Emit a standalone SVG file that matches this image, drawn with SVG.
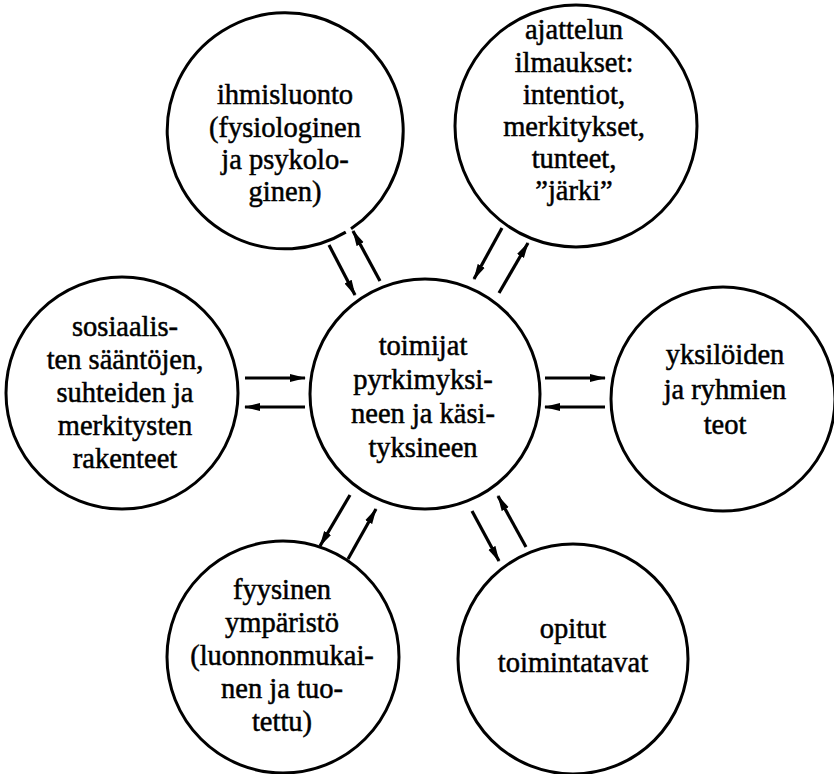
<svg xmlns="http://www.w3.org/2000/svg" width="834" height="774" viewBox="0 0 834 774">
<defs>
<marker id="ah" markerUnits="userSpaceOnUse" markerWidth="16" markerHeight="10" viewBox="0 0 16 10" refX="15" refY="5" orient="auto">
<path d="M0,1 L16,5 L0,9 z" fill="#000"/>
</marker>
</defs>
<style>
.c{fill:#fff;stroke:#000;stroke-width:3}
.t{font-family:"Liberation Serif","Times New Roman",serif;font-size:28.5px;fill:#000;stroke:#000;stroke-width:0.5;text-anchor:middle}
.a{stroke:#000;stroke-width:3.2;fill:none;marker-end:url(#ah)}
</style>
<rect width="834" height="774" fill="#fff"/>
<g id="connectors">
<line class="a" x1="245" y1="378" x2="305" y2="378"/>
<line class="a" x1="305" y1="407" x2="245" y2="407"/>
<line class="a" x1="545" y1="378" x2="605" y2="378"/>
<line class="a" x1="605" y1="407" x2="545" y2="407"/>
<line class="a" x1="329" y1="245" x2="355" y2="295"/>
<line class="a" x1="380" y1="281" x2="353" y2="231"/>
<line class="a" x1="502" y1="228" x2="474" y2="279"/>
<line class="a" x1="499" y1="293" x2="528" y2="243"/>
<line class="a" x1="350" y1="495" x2="320" y2="546"/>
<line class="a" x1="348" y1="559" x2="376" y2="509"/>
<line class="a" x1="472" y1="511" x2="499" y2="561"/>
<line class="a" x1="526" y1="547" x2="498" y2="496"/>
</g>
<g id="node-ihmisluonto">
<path class="c" d="M345.8,232.1 A118,118 0 1 1 351.0,228.8"/>
<text class="t" x="285" y="104">ihmisluonto</text>
<text class="t" x="285" y="137">(fysiologinen</text>
<text class="t" x="285" y="169">ja psykolo-</text>
<text class="t" x="285" y="201">ginen)</text>
</g>
<g id="node-ajattelun">
<circle class="c" cx="576" cy="126" r="121"/>
<text class="t" x="574" y="39">ajattelun</text>
<text class="t" x="574" y="72">ilmaukset:</text>
<text class="t" x="574" y="104">intentiot,</text>
<text class="t" x="574" y="136">merkitykset,</text>
<text class="t" x="574" y="168">tunteet,</text>
<text class="t" x="574" y="200">”järki”</text>
</g>
<g id="node-sosiaalisten">
<circle class="c" cx="122" cy="393" r="116"/>
<text class="t" x="125" y="336">sosiaalis-</text>
<text class="t" x="125" y="369">ten sääntöjen,</text>
<text class="t" x="125" y="402">suhteiden ja</text>
<text class="t" x="125" y="435">merkitysten</text>
<text class="t" x="125" y="468">rakenteet</text>
</g>
<g id="node-toimijat">
<circle class="c" cx="425" cy="394" r="115"/>
<text class="t" x="423" y="355">toimijat</text>
<text class="t" x="423" y="389">pyrkimyksi-</text>
<text class="t" x="423" y="423">neen ja käsi-</text>
<text class="t" x="423" y="457">tyksineen</text>
</g>
<g id="node-yksiloiden">
<circle class="c" cx="723" cy="399" r="112"/>
<text class="t" x="725" y="364">yksilöiden</text>
<text class="t" x="725" y="399">ja ryhmien</text>
<text class="t" x="725" y="434">teot</text>
</g>
<g id="node-fyysinen">
<circle class="c" cx="283" cy="657" r="116"/>
<text class="t" x="282" y="599">fyysinen</text>
<text class="t" x="282" y="632">ympäristö</text>
<text class="t" x="282" y="665">(luonnonmukai-</text>
<text class="t" x="282" y="698">nen ja tuo-</text>
<text class="t" x="282" y="731">tettu)</text>
</g>
<g id="node-opitut">
<circle class="c" cx="573" cy="659" r="115"/>
<text class="t" x="573" y="638">opitut</text>
<text class="t" x="573" y="672">toimintatavat</text>
</g>
</svg>
